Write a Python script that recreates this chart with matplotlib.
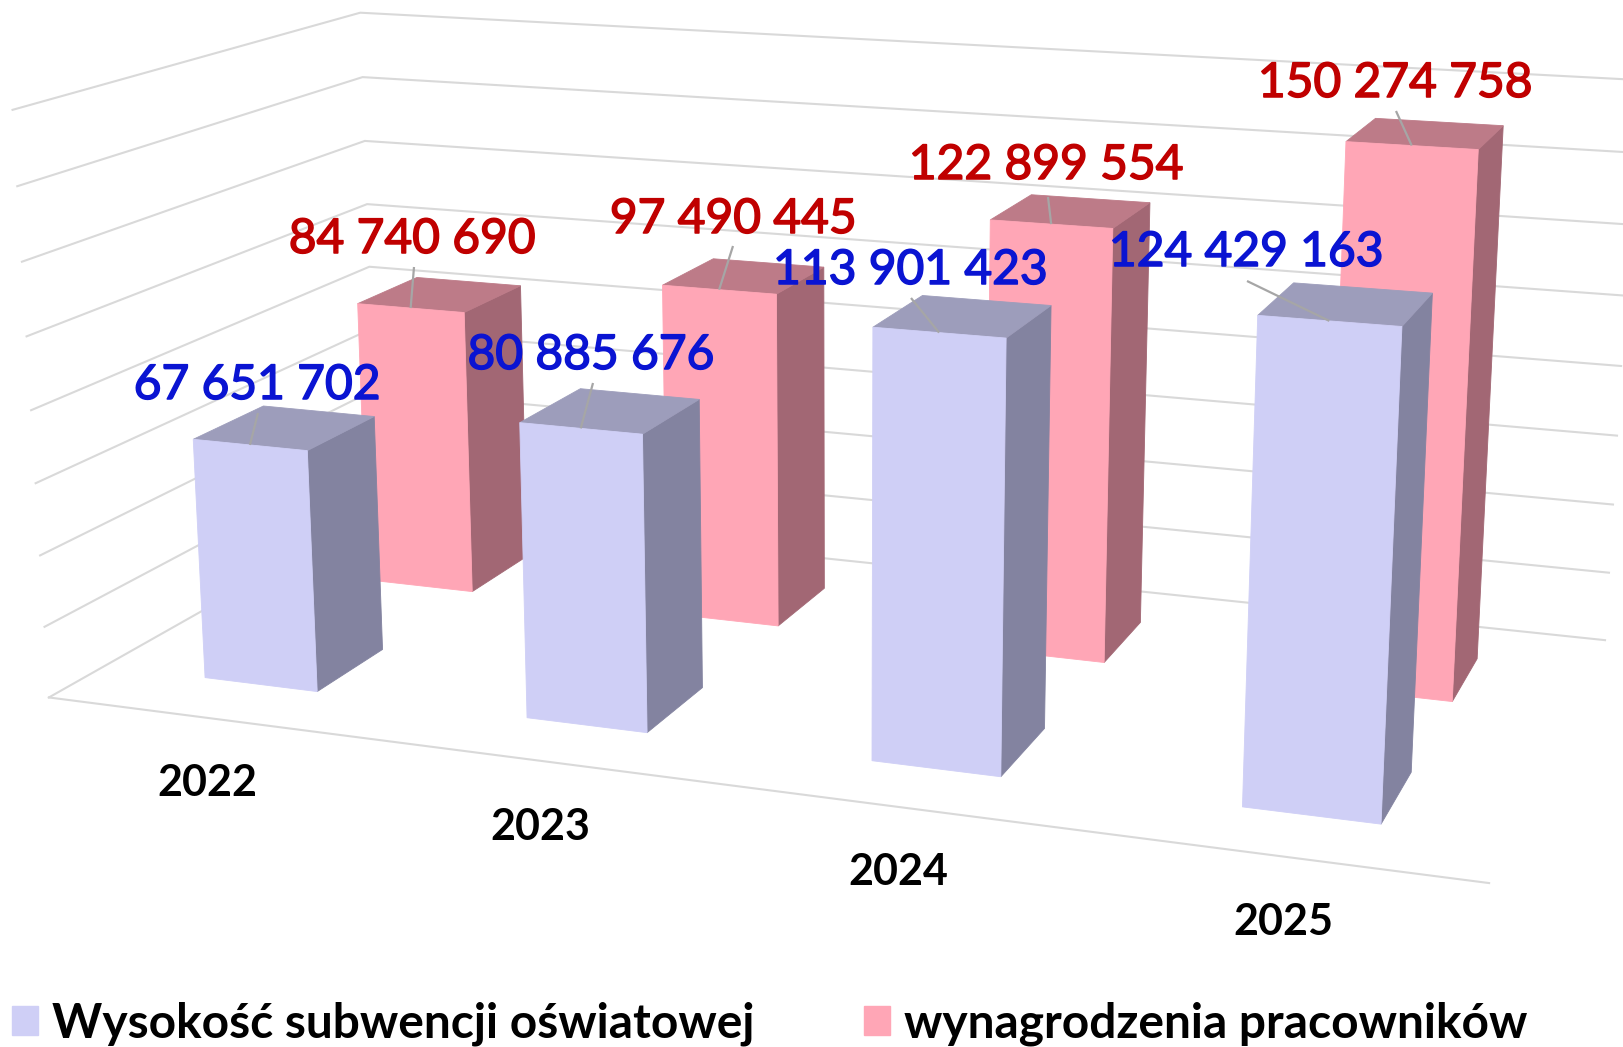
import numpy as np
import matplotlib
matplotlib.use("Agg")
import matplotlib.pyplot as plt
import matplotlib.patheffects as pe
from matplotlib.patches import Patch, Polygon

years = ["2022", "2023", "2024", "2025"]
subwencja = [67651702, 80885676, 113901423, 124429163]
wynagrodzenia = [84740690, 97490445, 122899554, 150274758]
series_names = ["Wysokość subwencji oświatowej", "wynagrodzenia pracowników"]
grid_step = 20000000
grid_count = 8

# camera of the 3D chart: (category, depth, value in grid steps) -> pixels
CAMERA = np.array([
    [1238.6024086, 399.7580623, -4.6137608, 48.9012415],
    [66.0553559, -90.5461084, -74.0497038, 697.4527845],
    [-0.1353999, 0.1866435, -0.0054556, 1.0],
])
BAR_HALF_WIDTH = 0.0445
BAR_HALF_DEPTH = 0.1
DEPTH_BLUE = 0.25
DEPTH_PINK = 0.75

BLUE = {"front": "#CFCFF6", "side": "#8383A0", "top": "#9D9DBB", "text": "#0A14D2"}
PINK = {"front": "#FFA6B6", "side": "#A26774", "top": "#BD7B88", "text": "#C00000"}
GRID = "#D9D9D9"
LEADER = "#A6A6A6"
FONT = "Lato"

# label centres and the far ends of the leader lines, in pixels
blue_label_xy = [(257, 385), (591, 355), (910, 270), (1246, 252)]
pink_label_xy = [(412, 239), (733, 219), (1046, 165), (1395, 83)]
blue_leader_xy = [(258, 413), (593, 383), (911, 298), (1247, 281)]
pink_leader_xy = [(414, 267), (733, 246), (1048, 197), (1396, 111)]
year_label_xy = [(207, 783), (540, 827), (898, 872), (1283, 922)]


def project(x, y, z):
    q = CAMERA @ np.array([x, y, z, 1.0])
    return q[0] / q[2], q[1] / q[2]


def fmt(value):
    return f"{value:,}".replace(",", " ")


def draw_bar(ax, i, depth, value, colors):
    x0 = (i + 0.5) / len(years) - BAR_HALF_WIDTH
    x1 = (i + 0.5) / len(years) + BAR_HALF_WIDTH
    y0 = depth - BAR_HALF_DEPTH
    y1 = depth + BAR_HALF_DEPTH
    z = value / grid_step
    faces = {
        "side": [(x1, y0, 0), (x1, y1, 0), (x1, y1, z), (x1, y0, z)],
        "top": [(x0, y0, z), (x1, y0, z), (x1, y1, z), (x0, y1, z)],
        "front": [(x0, y0, 0), (x1, y0, 0), (x1, y0, z), (x0, y0, z)],
    }
    for name, corners in faces.items():
        ax.add_patch(Polygon([project(*c) for c in corners], closed=True,
                             facecolor=colors[name], edgecolor=colors[name],
                             linewidth=0.6, zorder=3))
    return project((x0 + x1) / 2, y0, z)


def draw_labels(ax, values, anchors, label_xy, leader_xy, color):
    for value, anchor, xy, lead in zip(values, anchors, label_xy, leader_xy):
        ax.plot([anchor[0], lead[0]], [anchor[1], lead[1]], color=LEADER, lw=1.6,
                solid_capstyle="butt", zorder=4)
        t = ax.text(xy[0], xy[1], fmt(value), color=color, fontsize=34.5, family=FONT,
                    ha="center", va="center", zorder=5)
        # the labels are a touch heavier than Lato Regular
        t.set_path_effects([pe.withStroke(linewidth=1.1, foreground=color)])


def main():
    fig = plt.figure(figsize=(16.23, 10.47), dpi=100)
    ax = fig.add_axes([0, 0, 1, 1])
    ax.set_xlim(0, 1623)
    ax.set_ylim(1047, 0)
    ax.axis("off")

    # walls
    for level in range(grid_count + 1):
        path = [project(0, 0, level), project(0, 1, level), project(1, 1, level)]
        ax.plot(*zip(*path), color=GRID, lw=1.5, zorder=1, solid_joinstyle="miter")
    ax.plot(*zip(project(0, 0, 0), project(1, 0, 0)), color=GRID, lw=1.5, zorder=1)

    # back row first, blue bars stand in front
    pink_tops = [draw_bar(ax, i, DEPTH_PINK, v, PINK) for i, v in enumerate(wynagrodzenia)]
    blue_tops = [draw_bar(ax, i, DEPTH_BLUE, v, BLUE) for i, v in enumerate(subwencja)]

    draw_labels(ax, wynagrodzenia, pink_tops, pink_label_xy, pink_leader_xy, PINK["text"])
    draw_labels(ax, subwencja, blue_tops, blue_label_xy, blue_leader_xy, BLUE["text"])

    for year, xy in zip(years, year_label_xy):
        ax.text(xy[0], xy[1], year, fontsize=31, family=FONT, fontweight="bold",
                color="black", ha="center", va="center", zorder=5)

    handles = [Patch(facecolor=BLUE["front"], edgecolor=BLUE["front"]),
               Patch(facecolor=PINK["front"], edgecolor=PINK["front"])]
    ax.legend(handles, series_names, ncol=2, loc="lower left",
              bbox_to_anchor=(12 / 1623, 1 / 1047),
              frameon=False, borderpad=0, borderaxespad=0,
              prop={"family": FONT, "size": 34.5, "weight": "bold"},
              handlelength=0.54, handleheight=0.54, handletextpad=0.29,
              columnspacing=2.3)

    fig.savefig("out.png", dpi=100)


if __name__ == "__main__":
    main()
